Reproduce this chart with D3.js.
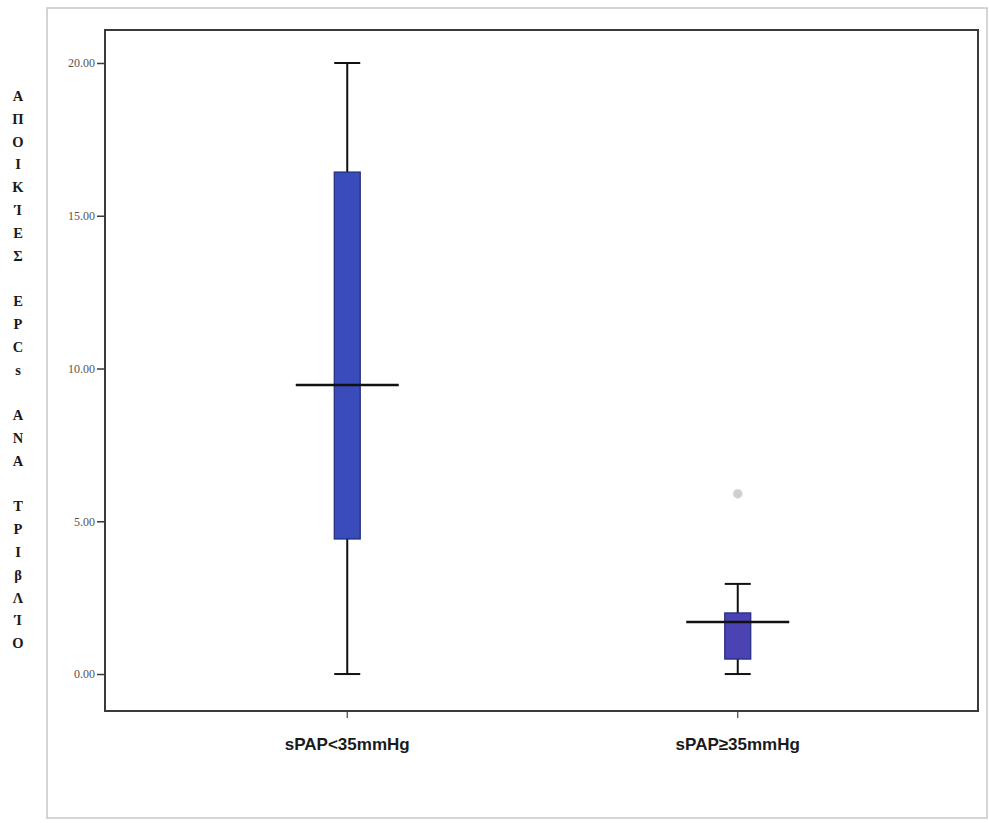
<!DOCTYPE html>
<html>
<head>
<meta charset="utf-8">
<script src="https://cdn.jsdelivr.net/npm/d3@7"></script>
<style>
  html, body { margin: 0; padding: 0; background: #ffffff; }
  svg { display: block; }
</style>
</head>
<body>
<svg id="chart" width="989" height="823"></svg>
<script>
// ---- data ----
const categories = ["sPAP<35mmHg", "sPAP\u226535mmHg"];
const whiskerLow = [0, 0];
const q1 = [4.42, 0.49];
const median = [9.46, 1.70];
const q3 = [16.43, 2.0];
const whiskerHigh = [20, 2.95];
const outliers = [[], [5.9]];
const boxColors = ["#3a4bbb", "#4b43b3"];
const yTicks = [0, 5, 10, 15, 20];
const yTitleLetters = ["Α","Π","Ο","Ι","Κ","Ί","Ε","Σ"," ","Ε","Ρ","C","s"," ","Α","Ν","Α"," ","Τ","Ρ","Ι","β","Λ","Ί","Ο"];

const svg = d3.select("#chart");

// outer frame
svg.append("rect").attr("x", 47).attr("y", 8).attr("width", 940).attr("height", 810)
  .attr("fill", "none").attr("stroke", "#c8c8c8").attr("stroke-width", 1.5);

const plot = { left: 105, top: 30, right: 978, bottom: 711 };

const y = d3.scaleLinear().domain([-1.21, 21.08]).range([plot.bottom, plot.top]);
const x = d3.scalePoint().domain(categories).range([152, 933]).padding(0.5);

// plot box
svg.append("rect").attr("x", plot.left).attr("y", plot.top)
  .attr("width", plot.right - plot.left).attr("height", plot.bottom - plot.top)
  .attr("fill", "#ffffff").attr("stroke", "#3a3a3a").attr("stroke-width", 2);

// y axis ticks
const yAxis = d3.axisLeft(y).tickValues(yTicks).tickFormat(d3.format(".2f")).tickSize(8).tickPadding(2);
const gy = svg.append("g").attr("transform", `translate(${plot.left},0)`).call(yAxis);
gy.select(".domain").remove();
gy.selectAll(".tick line").attr("stroke", "#3a3a3a").attr("stroke-width", 1.5);
gy.selectAll(".tick text").attr("fill", "#555").attr("font-family", "Liberation Serif, serif")
  .attr("font-size", 12);

// x ticks and labels
categories.forEach((c) => {
  const cx = x(c);
  svg.append("line").attr("x1", cx).attr("x2", cx).attr("y1", plot.bottom).attr("y2", plot.bottom + 7)
    .attr("stroke", "#444").attr("stroke-width", 1.2);
  svg.append("text").attr("x", cx).attr("y", 750).attr("text-anchor", "middle")
    .attr("font-family", "Liberation Sans, Arial, sans-serif").attr("font-weight", "bold")
    .attr("font-size", 17).attr("fill", "#1a1a1a").text(c);
});

// boxes
const boxW = 26, capW = 26, medW = 103;
categories.forEach((c, i) => {
  const cx = x(c);
  const g = svg.append("g");
  // whisker
  g.append("line").attr("x1", cx).attr("x2", cx).attr("y1", y(whiskerLow[i])).attr("y2", y(whiskerHigh[i]))
    .attr("stroke", "#111").attr("stroke-width", 2);
  [whiskerLow[i], whiskerHigh[i]].forEach(v => {
    g.append("line").attr("x1", cx - capW / 2).attr("x2", cx + capW / 2).attr("y1", y(v)).attr("y2", y(v))
      .attr("stroke", "#111").attr("stroke-width", 2);
  });
  // box
  g.append("rect").attr("x", cx - boxW / 2).attr("y", y(q3[i])).attr("width", boxW)
    .attr("height", y(q1[i]) - y(q3[i])).attr("fill", boxColors[i]).attr("stroke", "#1f2a7a").attr("stroke-width", 1.2);
  // median
  g.append("line").attr("x1", cx - medW / 2).attr("x2", cx + medW / 2).attr("y1", y(median[i])).attr("y2", y(median[i]))
    .attr("stroke", "#111").attr("stroke-width", 2.5);
  // outliers
  outliers[i].forEach(v => {
    g.append("circle").attr("cx", cx).attr("cy", y(v)).attr("r", 4.5)
      .attr("fill", "#cfcfcf").attr("stroke", "#dedede");
  });
});

// y title: stacked letters
const letterStep = 22.8;
svg.append("g").selectAll("text").data(yTitleLetters).join("text")
  .attr("x", 18).attr("y", (d, i) => 101 + i * letterStep).attr("text-anchor", "middle")
  .attr("font-family", "Liberation Serif, Times New Roman, serif").attr("font-weight", "bold")
  .attr("font-size", 14.5).attr("fill", "#1a1a1a").text(d => d);
</script>
</body>
</html>
